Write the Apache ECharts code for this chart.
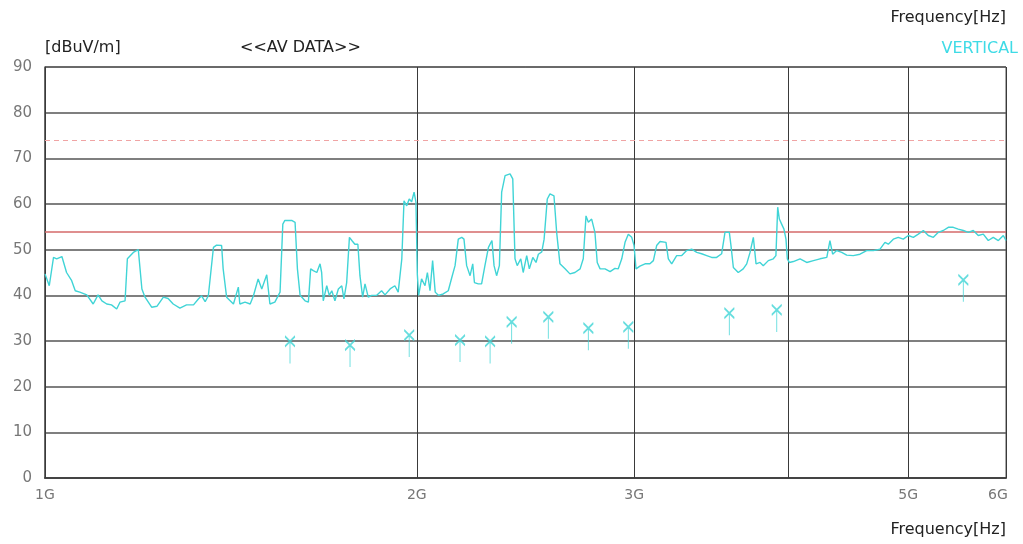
<!DOCTYPE html>
<html>
<head>
<meta charset="utf-8">
<script src="https://cdn.jsdelivr.net/npm/echarts@6/dist/echarts.min.js"></script>
<style>
  html, body { margin: 0; padding: 0; background: #fff; }
  #chart { width: 1023px; height: 544px; }
</style>
</head>
<body>
<div id="chart"></div>
<script>
// 频率 (MHz) / 电平 (dBuV/m)
var traceFreq = [
  1000, 1008, 1016, 1022, 1025, 1032, 1041, 1051, 1058, 1067, 1081, 1094, 1104, 1112, 1122, 1132, 1143, 1150, 1161, 1166,
  1179, 1190, 1198, 1205, 1220, 1232, 1247, 1258, 1270, 1286, 1302, 1319, 1331, 1339, 1348, 1356, 1369, 1377, 1390, 1394,
  1403, 1421, 1434, 1438, 1452, 1466, 1475, 1488, 1498, 1512, 1521, 1535, 1550, 1558, 1564, 1584, 1594, 1601, 1609, 1624,
  1634, 1641, 1649, 1660, 1670, 1675, 1680, 1691, 1699, 1707, 1717, 1728, 1739, 1746, 1755, 1764, 1772, 1782, 1792, 1799,
  1808, 1816, 1827, 1839, 1856, 1873, 1885, 1903, 1920, 1932, 1945, 1953, 1963, 1972, 1981, 1990, 1997, 2002, 2007, 2018,
  2031, 2040, 2050, 2060, 2070, 2082, 2101, 2121, 2135, 2148, 2161, 2175, 2184, 2195, 2209, 2220, 2227, 2243, 2257, 2271,
  2286, 2293, 2301, 2310, 2321, 2333, 2343, 2358, 2380, 2392, 2402, 2412, 2428, 2439, 2455, 2467, 2483, 2498, 2509, 2525,
  2536, 2551, 2564, 2583, 2596, 2612, 2637, 2661, 2686, 2712, 2728, 2742, 2754, 2771, 2788, 2800, 2815, 2841, 2868, 2894,
  2912, 2931, 2949, 2967, 2986, 2999, 3010, 3032, 3061, 3089, 3109, 3128, 3148, 3183, 3197, 3217, 3247, 3278, 3308, 3339,
  3371, 3402, 3434, 3466, 3498, 3531, 3553, 3582, 3593, 3609, 3642, 3676, 3700, 3723, 3746, 3765, 3793, 3816, 3852, 3888,
  3907, 3920, 3932, 3949, 3966, 3981, 3991, 4006, 4036, 4087, 4138, 4190, 4242, 4296, 4321, 4343, 4376, 4417, 4458, 4513,
  4570, 4627, 4685, 4744, 4788, 4818, 4863, 4908, 4954, 5001, 5048, 5095, 5143, 5191, 5240, 5289, 5338, 5388, 5438, 5489,
  5541, 5593, 5645, 5698, 5751, 5805, 5859, 5915, 5970, 6000
]
var traceLevel = [
  44.7, 42.1, 48.3, 48.0, 47.6, 48.5, 45.0, 43.2, 41.0, 40.7, 40.1, 38.1, 40.1, 38.8, 38.1, 37.9, 37.0, 38.5, 38.8, 48.0,
  49.4, 50.0, 41.4, 39.6, 37.4, 37.6, 39.6, 39.3, 38.1, 37.2, 37.9, 37.9, 39.2, 39.9, 38.6, 39.9, 50.5, 51.0, 50.9, 45.8,
  39.6, 38.1, 41.8, 38.1, 38.5, 38.1, 39.9, 43.6, 41.4, 44.5, 38.1, 38.5, 40.7, 55.6, 56.4, 56.4, 56.0, 45.8, 40.0, 38.8,
  38.5, 45.8, 45.4, 45.0, 46.9, 45.0, 38.8, 42.1, 40.0, 41.0, 38.8, 41.4, 42.1, 39.2, 42.8, 52.7, 52.0, 51.2, 51.2, 44.3,
  39.6, 42.5, 39.6, 40.0, 40.0, 41.0, 40.1, 41.4, 42.1, 40.7, 48.0, 60.7, 59.6, 61.1, 60.5, 62.6, 60.4, 44.7, 40.0, 43.6,
  42.1, 45.0, 41.0, 47.6, 40.7, 40.0, 40.3, 41.0, 43.9, 46.5, 52.3, 52.7, 52.3, 46.5, 44.3, 46.9, 42.8, 42.5, 42.5, 46.5,
  50.5, 51.2, 52.0, 46.5, 44.3, 46.5, 62.6, 66.2, 66.6, 65.5, 48.0, 46.5, 48.0, 45.0, 48.7, 45.8, 48.3, 47.2, 49.0, 49.5,
  52.3, 61.1, 62.2, 61.8, 53.8, 46.9, 45.8, 44.7, 45.0, 45.8, 48.0, 57.4, 56.0, 56.7, 53.8, 47.2, 45.8, 45.8, 45.2, 45.9,
  45.8, 48.0, 51.6, 53.4, 52.7, 50.9, 45.8, 46.4, 46.9, 46.9, 47.6, 50.9, 51.8, 51.6, 48.0, 46.9, 48.7, 48.7, 49.8, 50.1,
  49.4, 49.1, 48.7, 48.3, 48.3, 49.1, 53.8, 53.8, 50.9, 46.1, 45.0, 45.8, 46.9, 49.4, 52.7, 46.9, 47.2, 46.5, 47.6, 48.0,
  48.7, 59.3, 56.7, 55.6, 54.5, 52.3, 48.0, 47.2, 47.4, 48.0, 47.2, 47.6, 48.0, 48.3, 52.0, 49.0, 49.8, 49.4, 48.8, 48.7,
  49.0, 49.8, 49.8, 50.1, 51.6, 51.2, 52.3, 52.7, 52.3, 53.1, 52.7, 53.4, 54.2, 53.1, 52.7, 53.8, 54.2, 54.9, 54.9, 54.5,
  54.2, 53.8, 54.2, 53.1, 53.4, 52.0, 52.7, 52.0, 53.1, 52.0
]

// AV 测量点
var peakFreq = [1579, 1766, 1972, 2168, 2293, 2387, 2556, 2754, 2967, 3582, 3913, 5541]
var peakLevel = [29.9, 29.1, 31.3, 30.2, 29.9, 34.2, 35.3, 32.8, 33.1, 36.1, 36.8, 43.4]

// 限值线
var limitAv = 54
var limitPk = 74

// 横轴刻度
var xTickFreq = [1000, 2000, 3000, 4000, 5000, 6000]
var xTickLabel = ['1G', '2G', '3G', '', '5G', '6G']

var myChart = echarts.init(document.getElementById('chart'))

var textFont = 'DejaVu Sans'
var traceColor = '#40d4d6'

var vLines = xTickFreq.map(function (f, i) {
  return {
    xAxis: f,
    lineStyle: { color: '#3a3a3a', width: 1, type: 'solid' },
    label: {
      show: xTickLabel[i] !== '',
      position: 'start',
      distance: 10,
      formatter: xTickLabel[i],
      color: '#777',
      fontSize: 14,
      fontFamily: textFont,
      padding: i === xTickFreq.length - 1 ? [0, 16, 0, 0] : 0
    }
  }
})

var option = {
  animation: false,
  backgroundColor: '#fff',
  grid: {
    left: 45,
    right: 17,
    top: 67,
    bottom: 66,
    containLabel: false,
    outerBoundsMode: 'none',
    show: true,
    borderColor: '#555',
    borderWidth: 1
  },
  xAxis: {
    type: 'log',
    logBase: 10,
    min: 1000,
    max: 6000,
    axisLine: { show: true, onZero: false, lineStyle: { color: '#444', width: 2 } },
    axisTick: { show: false },
    axisLabel: { show: false },
    splitLine: { show: false }
  },
  yAxis: {
    type: 'value',
    min: 0,
    max: 90,
    interval: 10,
    axisLine: { show: true, lineStyle: { color: '#555', width: 1.5 } },
    axisTick: { show: false },
    axisLabel: {
      margin: 13,
      color: '#777',
      fontSize: 15,
      fontFamily: textFont
    },
    splitLine: { show: true, lineStyle: { color: '#555', width: 1.6 } }
  },
  graphic: [
    { type: 'text', left: 45, top: 40, style: { text: '[dBuV/m]', fill: '#222', fontSize: 16, fontFamily: textFont } },
    { type: 'text', left: 240, top: 40, style: { text: '<<AV DATA>>', fill: '#222', fontSize: 16, fontFamily: textFont } },
    { type: 'text', right: 17, top: 10, style: { text: 'Frequency[Hz]', fill: '#222', fontSize: 16, fontFamily: textFont } },
    { type: 'text', right: 5, top: 41, style: { text: 'VERTICAL', fill: '#3fdbe6', fontSize: 16, fontFamily: textFont } },
    { type: 'text', right: 17, top: 522, style: { text: 'Frequency[Hz]', fill: '#222', fontSize: 16, fontFamily: textFont } }
  ],
  series: [
    {
      name: 'trace',
      type: 'line',
      data: traceFreq.map(function (f, i) { return [f, traceLevel[i]] }),
      symbol: 'none',
      lineStyle: { color: traceColor, width: 1.4 },
      z: 5,
      markLine: {
        silent: true,
        symbol: 'none',
        animation: false,
        data: vLines.concat([
          { yAxis: limitAv, lineStyle: { color: '#d46a6a', width: 1.5, type: 'solid' }, label: { show: false } },
          { yAxis: limitPk, lineStyle: { color: '#f0a4a4', width: 1, type: [5, 4] }, label: { show: false } }
        ])
      }
    },
    {
      name: 'peaks',
      type: 'scatter',
      data: peakFreq.map(function (f, i) { return [f, peakLevel[i]] }),
      symbol: 'path://M0,0L10,10M10,0L0,10M5,5L5,27',
      symbolSize: [10, 27],
      symbolOffset: [0, 8.5],
      itemStyle: { color: 'rgba(0,0,0,0)', borderColor: traceColor, borderWidth: 1.5 },
      z: 6
    }
  ]
}

myChart.setOption(option)
</script>
</body>
</html>
